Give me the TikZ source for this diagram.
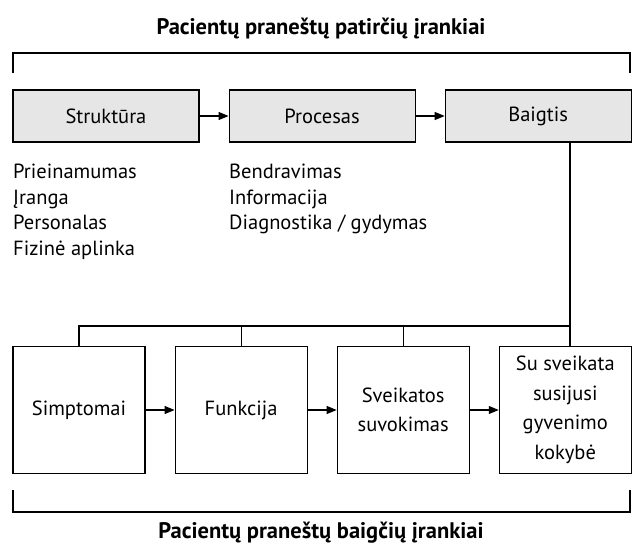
\documentclass[tikz,border=0pt]{standalone}
\usepackage{fontspec}
\setmainfont{PT Sans}
\usetikzlibrary{arrows.meta,positioning}
\definecolor{boxgray}{RGB}{230,230,231}

\begin{document}
\begin{tikzpicture}[
  x=1pt, y=-1pt,
  node distance=29pt,
  every node/.style={font=\fontsize{20.5}{25.5}\selectfont},
  phase/.style={rectangle, draw, fill=boxgray, line width=1.1pt,
    minimum width=186pt, minimum height=52pt, inner sep=0pt},
  outcome/.style={rectangle, draw, line width=1.1pt, align=center,
    font=\fontsize{20.5}{29.5}\selectfont,
    minimum width=132pt, minimum height=127pt, inner sep=2pt},
  items/.style={align=left, inner sep=0pt, anchor=north west},
  heading/.style={font=\fontsize{22.5}{26}\selectfont\bfseries, anchor=base},
  line/.style={line width=1.1pt},
  arr/.style={line width=1.1pt, -{Triangle[length=10pt,width=8pt]}}
]
\useasboundingbox (0,0) rectangle (632,549);

% Top
\node[heading] (toptitle) at (321,34) {Pacientų praneštų patirčių įrankiai};
\coordinate (tl) at (13,73);
\coordinate (tr) at (630,73);
\draw[line] (tl) -- ++(0,-20) -| (tr);

% Donabedian chain
\node[phase] (struct) at (106,116) {Struktūra};
\node[phase, right=of struct] (proc) {Procesas};
\node[phase, right=of proc] (baigtis) {Baigtis};

\draw[arr] (struct) -- (proc);
\draw[arr] (proc) -- (baigtis);

\node[items] (structlist) at (13,164) {Prieinamumas\\Įranga\\Personalas\\Fizinė aplinka};
\node[items] (proclist) at (229,164) {Bendravimas\\Informacija\\Diagnostika / gydymas};

% Outcome boxes
\node[outcome] (symp) at (79,410) {Simptomai};
\node[outcome, right=of symp] (func) {Funkcija};
\node[outcome, right=of func] (sense) {Sveikatos\\suvokimas};
\node[outcome, right=of sense] (qol) {Su sveikata\\susijusi\\gyvenimo\\kokybė};

\draw[arr] (symp) -- (func);
\draw[arr] (func) -- (sense);
\draw[arr] (sense) -- (qol);

\coordinate (bus) at (570,326);
\draw[line] (bus |- baigtis.south) -- (bus |- qol.north);
\draw[line] (bus) -| (symp.north);
\draw[line] (func.north) -- (func.north |- bus);
\draw[line] (sense.north) -- (sense.north |- bus);

% Bottom
\coordinate (bl) at (13,490);
\coordinate (br) at (630,490);
\draw[line] (bl) -- ++(0,22) -| (br);
\node[heading] (bottitle) at (321,538) {Pacientų praneštų baigčių įrankiai};

\end{tikzpicture}
\end{document}
